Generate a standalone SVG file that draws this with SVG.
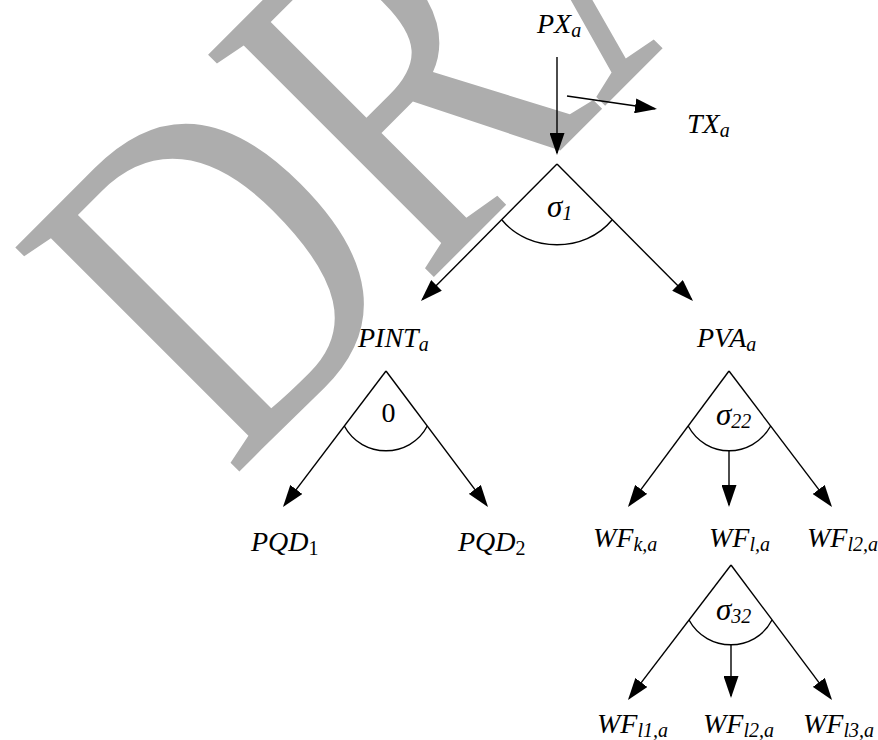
<svg xmlns="http://www.w3.org/2000/svg" width="878" height="740" viewBox="0 0 878 740">
<defs>
<style>
.t{font-family:"Liberation Serif","Times New Roman",serif;font-style:italic;font-size:28px;fill:#000}
.s{font-size:20px}
.g{font-size:31px}
.u{font-style:normal}
.ln{stroke:#000;stroke-width:1.4;fill:none}
.wm{font-family:"Liberation Serif","Times New Roman",serif;font-size:484px;fill:#ADADAD}
</style>
<marker id="ah" markerUnits="userSpaceOnUse" viewBox="0 0 22 15" markerWidth="22" markerHeight="15" refX="20" refY="7.5" orient="auto">
<path d="M0,0 L22,7.5 L0,15 z" fill="#000"/>
</marker>
</defs>
<rect width="878" height="740" fill="#fff"/>
<text class="wm" transform="translate(231.7,479.2) rotate(-45) scale(0.78,1)">DRAFT</text>

<g id="connectors">
<line class="ln" x1="557" y1="57" x2="557" y2="153" marker-end="url(#ah)"/>
<line class="ln" x1="567" y1="96" x2="655" y2="108.7" marker-end="url(#ah)"/>
<line class="ln" x1="557" y1="164" x2="422.4" y2="299.6" marker-end="url(#ah)"/>
<line class="ln" x1="557" y1="164" x2="691.6" y2="299.6" marker-end="url(#ah)"/>
<line class="ln" x1="386" y1="371" x2="284.2" y2="505.4" marker-end="url(#ah)"/>
<line class="ln" x1="386" y1="371" x2="486.8" y2="505.4" marker-end="url(#ah)"/>
<line class="ln" x1="729" y1="371" x2="629.2" y2="505.4" marker-end="url(#ah)"/>
<line class="ln" x1="729" y1="371" x2="830.8" y2="505.4" marker-end="url(#ah)"/>
<line class="ln" x1="729" y1="450" x2="729" y2="505" marker-end="url(#ah)"/>
<line class="ln" x1="731" y1="565" x2="629.2" y2="698.4" marker-end="url(#ah)"/>
<line class="ln" x1="731" y1="565" x2="830.8" y2="698.4" marker-end="url(#ah)"/>
<line class="ln" x1="731" y1="645" x2="731" y2="696" marker-end="url(#ah)"/>
</g>

<g id="op-sigma1">
<path class="ln" d="M502,220 C529,253 585,253 612,220"/>
<text class="t" x="547" y="217"><tspan class="g">σ</tspan><tspan class="s" dy="3">1</tspan></text>
</g>
<g id="op-zero">
<path class="ln" d="M344.3,426 C362,459 410,459 427.3,426"/>
<text class="t u" x="381.5" y="422" font-size="29">0</text>
</g>
<g id="op-sigma22">
<path class="ln" d="M688.2,426 C706,459 752,459 770.7,426"/>
<text class="t" x="716" y="425"><tspan class="g">σ</tspan><tspan class="s" dy="3">22</tspan></text>
</g>
<g id="op-sigma32">
<path class="ln" d="M689,620 C707,653 755,653 772,620"/>
<text class="t" x="716" y="620"><tspan class="g">σ</tspan><tspan class="s" dy="3">32</tspan></text>
</g>

<g id="n-PX"><text class="t" x="537" y="33">PX<tspan class="s" dy="4">a</tspan></text></g>
<g id="n-TX"><text class="t" x="687" y="133">TX<tspan class="s" dy="4">a</tspan></text></g>
<g id="n-PINT"><text class="t" x="358" y="347">PINT<tspan class="s" dy="4">a</tspan></text></g>
<g id="n-PVA"><text class="t" x="697" y="347">PVA<tspan class="s" dy="4">a</tspan></text></g>
<g id="n-PQD1"><text class="t" x="251" y="551">PQD<tspan class="s u" dy="4">1</tspan></text></g>
<g id="n-PQD2"><text class="t" x="458" y="551">PQD<tspan class="s u" dy="4">2</tspan></text></g>
<g id="n-WFka"><text class="t" x="593" y="547">WF<tspan class="s" dy="4">k,a</tspan></text></g>
<g id="n-WFla"><text class="t" x="709" y="547">WF<tspan class="s" dy="4">l,a</tspan></text></g>
<g id="n-WFl2a"><text class="t" x="807" y="547">WF<tspan class="s" dy="4">l2,a</tspan></text></g>
<g id="n-WFl1a"><text class="t" x="597" y="733">WF<tspan class="s" dy="4">l1,a</tspan></text></g>
<g id="n-WFl2a-b"><text class="t" x="703" y="733">WF<tspan class="s" dy="4">l2,a</tspan></text></g>
<g id="n-WFl3a"><text class="t" x="803" y="733">WF<tspan class="s" dy="4">l3,a</tspan></text></g>
</svg>
